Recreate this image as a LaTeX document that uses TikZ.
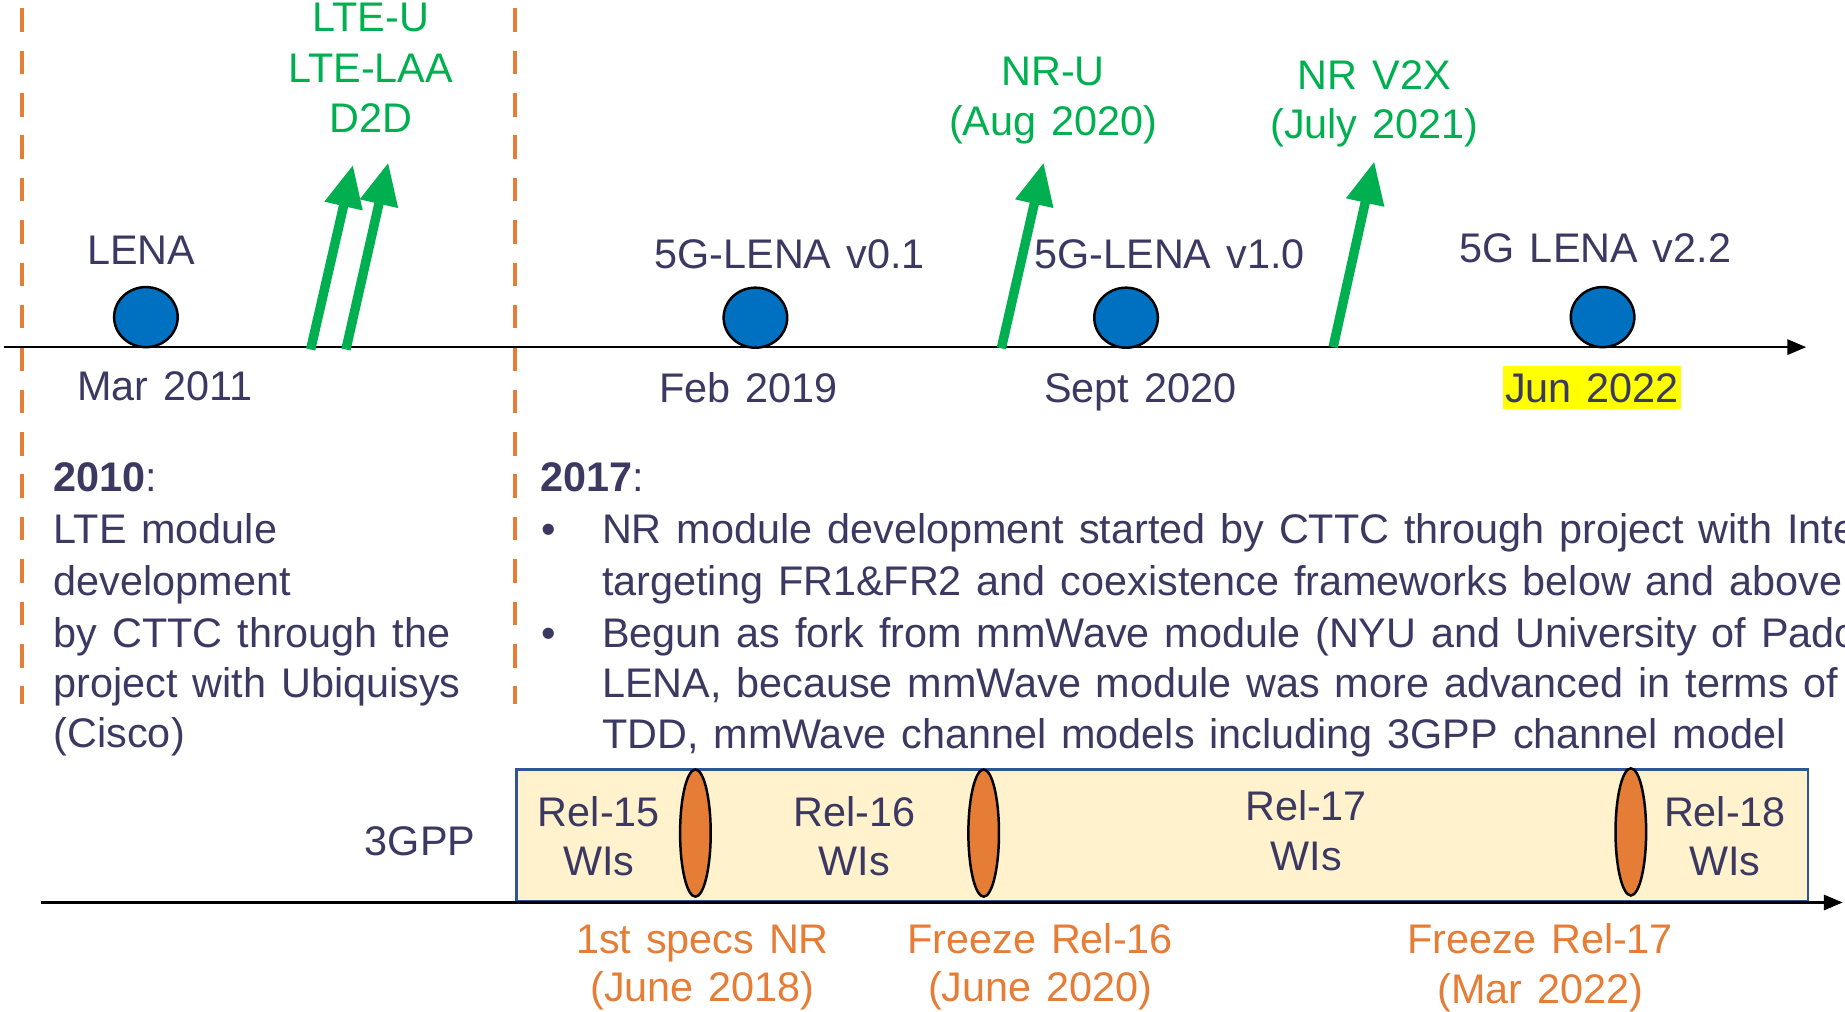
\documentclass[tikz,border=0pt]{standalone}
\usepackage{fontspec}
\setmainfont{Liberation Sans}
\usetikzlibrary{arrows.meta,shapes.geometric}

\definecolor{inkblue}{RGB}{59,56,98}
\definecolor{dotblue}{RGB}{0,112,192}
\definecolor{leafgreen}{RGB}{0,176,80}
\definecolor{rustorange}{RGB}{230,125,55}
\definecolor{cream}{RGB}{255,242,204}
\definecolor{frameblue}{RGB}{47,85,151}
\definecolor{marker}{RGB}{255,255,0}

\newcommand\lblfont{\fontsize{10}{12}\selectfont\spaceskip=0.36em plus 0.1em\relax}

\begin{document}
\begin{tikzpicture}[x=0.01cm,y=-0.01cm,
  txt/.style={font=\lblfont, text=inkblue, inner sep=0pt, anchor=base},
  txtl/.style={txt, anchor=base west},
  grn/.style={txt, text=leafgreen},
  org/.style={txt, text=rustorange},
  milestone/.style={ellipse, draw=black, line width=0.6pt, fill=dotblue,
    minimum width=0.54cm, minimum height=0.51cm, inner sep=0pt},
  freeze/.style={ellipse, draw=black, line width=0.6pt, fill=rustorange,
    minimum width=0.26cm, minimum height=1.08cm, inner sep=0pt},
  axis/.style={line width=0.55pt, -{Triangle[length=0.16cm,width=0.13cm]}},
  feature/.style={leafgreen, line width=0.08cm, -{Triangle[length=0.36cm,width=0.31cm]}},
  era/.style={rustorange, line width=0.035cm, dash pattern=on 0.2cm off 0.16cm},
  relbox/.style={draw=frameblue, line width=0.6pt, fill=cream, inner sep=0pt,
    minimum width=10.97cm, minimum height=1.12cm, anchor=north west},
]
\useasboundingbox (0,0) rectangle (1568,860);
\clip (0,0) rectangle (1568,860);

% era separators
\coordinate (e1a) at (19,7);   \coordinate (e1b) at (19,598);
\coordinate (e2a) at (438,7);  \coordinate (e2b) at (438,598);
\draw[era] (e1a) -- (e1b);
\draw[era] (e2a) -- (e2b);

% simulator timeline
\coordinate (t0) at (3,295);
\coordinate (t1) at (1535,295);
\draw[axis] (t0) -- (t1);

\node[milestone] (m1) at (124,269.5) {};
\node[milestone] (m2) at (642,270) {};
\node[milestone] (m3) at (957,270) {};
\node[milestone] (m4) at (1362,269.5) {};

\node[txt] (m1name) at (120,225) {LENA};
\node[txt] (m2name) at (671,228) {5G-LENA v0.1};
\node[txt] (m3name) at (994,228) {5G-LENA v1.0};
\node[txt] (m4name) at (1356,223) {5G LENA v2.2};

\node[txt] (m1date) at (140,340) {Mar 2011};
\node[txt] (m2date) at (636,342) {Feb 2019};
\node[txt] (m3date) at (969,342) {Sept 2020};
\node[txt, fill=marker, inner xsep=0.02cm, text height=0.31cm, text depth=0.06cm]
  (m4date) at (1353,342) {Jun 2022};

% feature arrows
\coordinate (a1s) at (264,297); \coordinate (a1e) at (300,140);
\coordinate (a2s) at (294,297); \coordinate (a2e) at (330,138);
\coordinate (a3s) at (851,296); \coordinate (a3e) at (887,138);
\coordinate (a4s) at (1133,295); \coordinate (a4e) at (1168,137);
\draw[feature] (a1s) -- (a1e);
\draw[feature] (a2s) -- (a2e);
\draw[feature] (a3s) -- (a3e);
\draw[feature] (a4s) -- (a4e);

\node[grn] (f1) at (315,27)  {LTE-U};
\node[grn] (f2) at (315,70)  {LTE-LAA};
\node[grn] (f3) at (315,113) {D2D};
\node[grn] (f4) at (895,73)  {NR-U};
\node[grn] (f5) at (895,115) {(Aug 2020)};
\node[grn] (f6) at (1168,76) {NR V2X};
\node[grn] (f7) at (1168,118) {(July 2021)};

% 2010 description
\node[txtl] (d1) at (45,418) {\textbf{2010}:};
\node[txtl] (d2) at (45,462) {LTE module};
\node[txtl] (d3) at (45,506) {development};
\node[txtl] (d4) at (45,550) {by CTTC through the};
\node[txtl] (d5) at (45,593) {project with Ubiquisys};
\node[txtl] (d6) at (45,635) {(Cisco)};

% 2017 description
\node[txtl] (n0) at (459,418) {\textbf{2017}:};
\node[txt] (b1) at (466,462) {•};
\node[txt] (b2) at (466,550) {•};
\node[txtl] (n1) at (511,462) {NR module development started by CTTC through project with Intel};
\node[txtl] (n2) at (511,506) {targeting FR1\&FR2 and coexistence frameworks below and above};
\node[txtl] (n3) at (511,550) {Begun as fork from mmWave module (NYU and University of Padova};
\node[txtl] (n4) at (511,593) {LENA, because mmWave module was more advanced in terms of};
\node[txtl] (n5) at (511,636) {TDD, mmWave channel models including 3GPP channel model};

% 3GPP releases
\node[txt] (gpplbl) at (357,727) {3GPP};
\node[relbox] (rel) at (438,653) {};
\coordinate (b0) at (35,767);
\coordinate (b1end) at (1566,767);
\draw[axis] (b0) -- (b1end);

\node[freeze] (z1) at (591,708) {};
\node[freeze] (z2) at (836,708) {};
\node[freeze] (z3) at (1386,707) {};

\node[txt] (r15a) at (509,702) {Rel-15};
\node[txt] (r15b) at (509,744) {WIs};
\node[txt] (r16a) at (726,702) {Rel-16};
\node[txt] (r16b) at (726,744) {WIs};
\node[txt] (r17a) at (1110,697) {Rel-17};
\node[txt] (r17b) at (1110,740) {WIs};
\node[txt] (r18a) at (1466,702) {Rel-18};
\node[txt] (r18b) at (1466,744) {WIs};

\node[org] (s1a) at (597,810) {1st specs NR};
\node[org] (s1b) at (597,851) {(June 2018)};
\node[org] (s2a) at (884,810) {Freeze Rel-16};
\node[org] (s2b) at (884,851) {(June 2020)};
\node[org] (s3a) at (1309,810) {Freeze Rel-17};
\node[org] (s3b) at (1309,853) {(Mar 2022)};
\end{tikzpicture}
\end{document}
